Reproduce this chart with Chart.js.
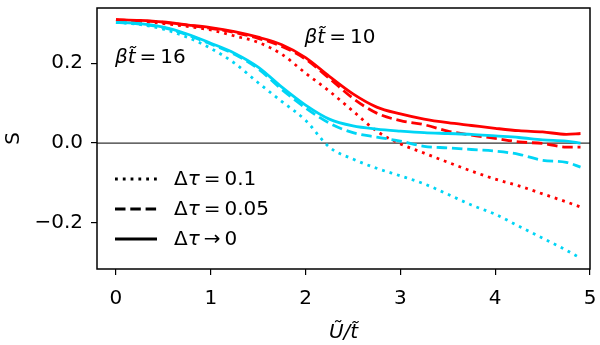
<!DOCTYPE html>
<html><head><meta charset="utf-8">
<script src="https://cdn.jsdelivr.net/npm/chart.js@4/dist/chart.umd.min.js"></script>
<style>html,body{margin:0;padding:0;background:#fff}</style>
</head><body>
<canvas id="c" width="600" height="345"></canvas>
<script>
// ---- data ----
const xValues = [0,0.25,0.5,0.75,1.0,1.25,1.5,1.75,2.0,2.25,2.5,2.75,3.0,3.25,3.5,3.75,4.0,4.25,4.5,4.75,4.9];
// beta*t = 10 (red)
const red_dt010  = [0.308,0.305,0.299,0.292,0.283,0.268,0.252,0.222,0.175,0.130,0.080,0.030,-0.002,-0.025,-0.048,-0.070,-0.090,-0.107,-0.127,-0.147,-0.160];
const red_dt005  = [0.308,0.306,0.302,0.295,0.287,0.277,0.262,0.242,0.210,0.162,0.112,0.075,0.056,0.046,0.030,0.020,0.012,0.003,-0.001,-0.010,-0.010];
const red_dt0    = [0.309,0.307,0.303,0.296,0.289,0.279,0.265,0.246,0.214,0.167,0.123,0.090,0.073,0.060,0.051,0.044,0.037,0.031,0.028,0.022,0.024];
// beta*t = 16 (cyan)
const cyan_dt010 = [0.302,0.297,0.285,0.265,0.237,0.200,0.151,0.104,0.057,-0.010,-0.040,-0.063,-0.082,-0.102,-0.128,-0.155,-0.178,-0.208,-0.238,-0.268,-0.288];
const cyan_dt005 = [0.302,0.298,0.289,0.271,0.248,0.222,0.186,0.134,0.088,0.050,0.026,0.015,0.005,-0.008,-0.012,-0.016,-0.020,-0.028,-0.043,-0.048,-0.060];
const cyan_dt0   = [0.302,0.299,0.290,0.273,0.250,0.225,0.190,0.140,0.095,0.060,0.043,0.035,0.030,0.026,0.024,0.022,0.018,0.014,0.008,0.005,0.000];
const zeroLineX = [-0.2, 5.0];
const zeroLineY = [0, 0];
const xTicks = [0,1,2,3,4,5];
const yTicks = [-0.2,0.0,0.2];
const xRange = [-0.2, 5.0];
const yRange = [-0.315, 0.338];
const legendLabels = ['0.1','0.05','0'];
const annotations = [{x:0, y:0.2, text:'16'}, {x:2.0, y:0.25, text:'10'}];

const RED = '#ff0000', CYAN = '#00d5f5';
const LW = 2.8;
const DOT = [2.8, 5], DASH = [10.5, 4.8];
const pts = ys => xValues.map((x,i)=>({x, y: ys[i]}));
function ds(ys, color, dash, order){
  return {data: pts(ys), borderColor: color, borderWidth: LW, borderDash: dash,
    pointRadius: 0, fill:false, cubicInterpolationMode:'monotone', order, borderCapStyle:'butt'};
}
const FONT = "'DejaVu Sans', sans-serif";

function drawMixed(ctx, parts, x, y){
  let cx = x;
  for (const p of parts){
    ctx.font = (p.it ? 'italic ' : '') + '20px ' + FONT;
    ctx.fillText(p.t, cx, y);
    cx += ctx.measureText(p.t).width + (p.sp || 0);
  }
}

const overlay = {
  id:'overlay',
  afterDatasetsDraw(chart){
    const {ctx, chartArea:a, scales} = chart;
    ctx.save();
    ctx.strokeStyle = '#000'; ctx.lineWidth = 1.5; ctx.setLineDash([]);
    ctx.strokeRect(a.left, a.top, a.right-a.left, a.bottom-a.top);
    // legend
    const styles = [DOT, DASH, []];
    const rowY = [179, 209, 239];
    ctx.fillStyle = '#000'; ctx.textBaseline = 'middle';
    for (let i=0;i<3;i++){
      ctx.beginPath(); ctx.setLineDash(styles[i]); ctx.lineWidth = LW; ctx.lineCap='butt';
      ctx.moveTo(115, rowY[i]); ctx.lineTo(157, rowY[i]); ctx.stroke();
      ctx.setLineDash([]);
      const rel = i===2 ? '\u2192' : '=';
      drawMixed(ctx, [{t:'\u0394'},{t:'\u03C4', it:true, sp:4},{t:rel, sp:4},{t:legendLabels[i]}], 174, rowY[i]+1);
    }
    // annotations
    ctx.textBaseline = 'alphabetic';
    for (const an of annotations){
      const px = scales.x.getPixelForValue(an.x) - 1;
      const py = scales.y.getPixelForValue(an.y);
      drawMixed(ctx, [{t:'\u03B2', it:true},{t:'t\u0303', it:true, sp:4},{t:'=', sp:4},{t:an.text}], px, py);
    }
    ctx.restore();
  }
};

new Chart(document.getElementById('c'), {
  type:'line',
  data:{datasets:[
    {data: zeroLineX.map((x,i)=>({x, y: zeroLineY[i]})), borderColor:'#000', borderWidth:1, pointRadius:0, order:20},
    ds(red_dt010, RED, DOT, 6),
    ds(red_dt005, RED, DASH, 5),
    ds(red_dt0, RED, [], 4),
    ds(cyan_dt010, CYAN, DOT, 3),
    ds(cyan_dt005, CYAN, DASH, 2),
    ds(cyan_dt0, CYAN, [], 1)
  ]},
  options:{
    responsive:false, animation:false, devicePixelRatio:1,
    layout:{padding:{top:8, right:10, left:0, bottom:0}},
    plugins:{legend:{display:false}, tooltip:{enabled:false}},
    scales:{
      x:{type:'linear', min:xRange[0], max:xRange[1],
        afterBuildTicks(s){ s.ticks = xTicks.map(v=>({value:v})); },
        afterFit(s){ s.height = 76; s.paddingLeft = 0; s.paddingRight = 0; },
        grid:{drawOnChartArea:false, drawTicks:true, tickLength:6, color:'#000', lineWidth:1.2},
        border:{display:false},
        ticks:{color:'#000', font:{family:FONT, size:20}, padding:12, maxRotation:0,
          callback:v=>String(v)},
        title:{display:true, text:'\u0168/t\u0303', color:'#000', font:{family:FONT, size:20, style:'italic'}, padding:{top:0,bottom:0}}
      },
      y:{type:'linear', min:yRange[0], max:yRange[1],
        afterBuildTicks(s){ s.ticks = yTicks.map(v=>({value:v})); },
        afterFit(s){ s.width = 97; s.paddingTop = 0; s.paddingBottom = 0; },
        grid:{drawOnChartArea:false, drawTicks:true, tickLength:6, color:'#000', lineWidth:1.2},
        border:{display:false},
        ticks:{color:'#000', font:{family:FONT, size:20}, padding:8,
          callback:v=> (Math.abs(v)<1e-9 ? '0.0' : (v<0?'\u2212':'') + Math.abs(v).toFixed(1))},
        title:{display:true, text:'S', color:'#000', font:{family:FONT, size:20}, padding:{top:2,bottom:0}}
      }
    }
  },
  plugins:[overlay]
});
</script>
</body></html>
